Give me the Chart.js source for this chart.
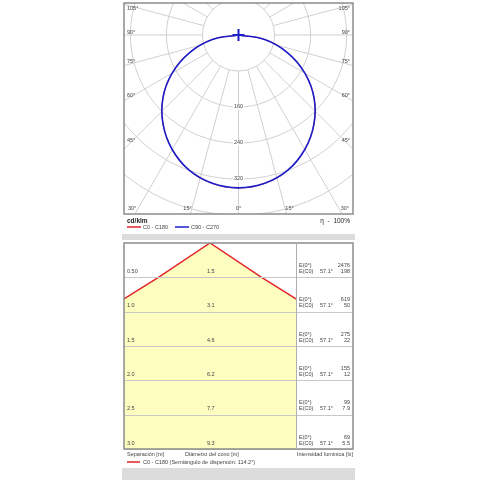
<!DOCTYPE html>
<html>
<head>
<meta charset="utf-8">
<script src="https://cdn.jsdelivr.net/npm/chart.js@4"></script>
<style>
  body { margin: 0; background: #fff; }
  canvas { position: absolute; left: 0; }
  #polar { top: 0; }
  #cone { top: 232px; }
</style>
</head>
<body>
<canvas id="polar" width="480" height="232"></canvas>
<canvas id="cone" width="480" height="248"></canvas>
<script>
// polar curve (cd/klm), read every 10 degrees from nadir
const polarAngles = [0, 10, 20, 30, 40, 50, 60, 70, 80, 90];
const c0c180 = [340, 335, 320, 294, 260, 219, 170, 116, 59, 0];
const c90c270 = [340, 335, 320, 294, 260, 219, 170, 116, 59, 0];
const ringValues = [80, 160, 240, 320, 400, 480, 560];
const ringLabels = [160, 240, 320];
const angleTicks = [0, 15, 30, 45, 60, 75, 90, 105];

// cone diagram
const separation = [0.5, 1.0, 1.5, 2.0, 2.5, 3.0];
const separationLabels = ['0.50', '1.0', '1.5', '2.0', '2.5', '3.0'];
const coneDiameter = [1.5, 3.1, 4.6, 6.2, 7.7, 9.3];
const eCenter = ['2476', '619', '275', '155', '99', '69'];
const eC0 = ['198', '50', '22', '12', '7.9', '5.5'];
const halfAngleText = '57.1°';

const RED = '#e0262b';
const BLUE = '#1c1cc8';
const FONT = '"Liberation Sans", Arial, sans-serif';

function toXY(angles, vals) {
  // both halves of the C-plane, nadir pointing down
  const pts = [];
  for (let i = angles.length - 1; i >= 0; i--) {
    const a = angles[i] * Math.PI / 180;
    pts.push({x: -vals[i] * Math.sin(a), y: -vals[i] * Math.cos(a)});
  }
  for (let i = 1; i < angles.length; i++) {
    const a = angles[i] * Math.PI / 180;
    pts.push({x: vals[i] * Math.sin(a), y: -vals[i] * Math.cos(a)});
  }
  return pts;
}

const polarGrid = {
  id: 'polarGrid',
  beforeDatasetsDraw(chart) {
    const {ctx, chartArea: ca, scales: {x, y}} = chart;
    const cx = x.getPixelForValue(0), cy = y.getPixelForValue(0);
    const k = x.getPixelForValue(100) - cx;
    ctx.save();
    ctx.beginPath();
    ctx.rect(ca.left, ca.top, ca.right - ca.left, ca.bottom - ca.top);
    ctx.clip();
    ctx.strokeStyle = '#d0d0d0';
    ctx.lineWidth = 1;
    ringValues.forEach(r => {
      ctx.beginPath();
      ctx.arc(cx, cy, r * k / 100, 0, Math.PI * 2);
      ctx.stroke();
    });
    for (let a = 0; a < 360; a += 15) {
      const t = a * Math.PI / 180;
      ctx.beginPath();
      ctx.moveTo(x.getPixelForValue(80 * Math.sin(t)), y.getPixelForValue(-80 * Math.cos(t)));
      ctx.lineTo(x.getPixelForValue(700 * Math.sin(t)), y.getPixelForValue(-700 * Math.cos(t)));
      ctx.stroke();
    }
    ctx.restore();
  },
  afterDatasetsDraw(chart) {
    const {ctx, chartArea: ca, scales: {x, y}} = chart;
    const cx = x.getPixelForValue(0), cy = y.getPixelForValue(0);
    ctx.save();
    ctx.font = '5.5px ' + FONT;
    ctx.textBaseline = 'middle';
    // ring values along the nadir spoke
    ctx.textAlign = 'center';
    ringLabels.forEach(r => {
      const py = y.getPixelForValue(-r);
      const w = ctx.measureText(String(r)).width;
      ctx.fillStyle = '#fff';
      ctx.fillRect(cx - w / 2 - 1, py - 3, w + 2, 6);
      ctx.fillStyle = '#444';
      ctx.fillText(String(r), cx, py);
    });
    // angle labels where spokes meet the frame
    const half = ca.right - cx - 7;
    const down = ca.bottom - cy;
    angleTicks.forEach(a => {
      const t = a * Math.PI / 180;
      const s = Math.sin(t), c = Math.cos(t);
      const label = a + '°';
      const tSide = s > 0 ? half / s : Infinity;
      const tBot = c > 0 ? (down - 6) / c : Infinity;
      ctx.fillStyle = '#444';
      if (tSide < tBot) {
        const py = Math.max(cy + tSide * c - 2, ca.top + 5);
        ctx.textAlign = 'left';
        ctx.fillText(label, ca.left + 3, py);
        ctx.textAlign = 'right';
        ctx.fillText(label, ca.right - 3, py);
      } else {
        const dx = down * s / c + 3;
        const py = ca.bottom - 6;
        ctx.textAlign = 'center';
        if (a === 0) {
          ctx.fillText(label, cx, py);
        } else {
          ctx.fillText(label, Math.max(cx - dx, ca.left + 7), py);
          ctx.fillText(label, Math.min(cx + dx, ca.right - 7), py);
        }
      }
    });
    // frame
    ctx.strokeStyle = '#8c8c8c';
    ctx.lineWidth = 1.5;
    ctx.strokeRect(ca.left, ca.top, ca.right - ca.left, ca.bottom - ca.top);
    // unit, efficiency, legend
    ctx.fillStyle = '#222';
    ctx.textAlign = 'left';
    ctx.font = 'bold 6.5px ' + FONT;
    ctx.fillText('cd/klm', ca.left + 3, ca.bottom + 7);
    ctx.font = '6.5px ' + FONT;
    ctx.textAlign = 'right';
    ctx.fillText('η  -  100%', ca.right - 3, ca.bottom + 7);
    ctx.font = '5.5px ' + FONT;
    ctx.textAlign = 'left';
    const ly = ca.bottom + 13;
    ctx.lineWidth = 1.5;
    ctx.strokeStyle = RED;
    ctx.beginPath(); ctx.moveTo(ca.left + 3, ly); ctx.lineTo(ca.left + 17, ly); ctx.stroke();
    ctx.fillStyle = '#444';
    ctx.fillText('C0 - C180', ca.left + 19, ly);
    ctx.strokeStyle = BLUE;
    ctx.beginPath(); ctx.moveTo(ca.left + 51, ly); ctx.lineTo(ca.left + 65, ly); ctx.stroke();
    ctx.fillText('C90 - C270', ca.left + 67, ly);
    ctx.restore();
  }
};

new Chart(document.getElementById('polar'), {
  type: 'scatter',
  data: {
    datasets: [
      {label: 'luminaire', data: [{x: 0, y: 0}], pointStyle: 'cross', pointRadius: 6,
       borderColor: BLUE, borderWidth: 2},
      {label: 'C90 - C270', data: toXY(polarAngles, c90c270), showLine: true, borderColor: BLUE,
       borderWidth: 1.6, pointRadius: 0, tension: 0.4},
      {label: 'C0 - C180', data: toXY(polarAngles, c0c180), showLine: true, borderColor: RED,
       borderWidth: 0.8, pointRadius: 0, tension: 0.4}
    ]
  },
  options: {
    responsive: false,
    animation: false,
    devicePixelRatio: 1,
    layout: {autoPadding: false, padding: {left: 124, right: 127, top: 3, bottom: 18}},
    plugins: {legend: {display: false}, tooltip: {enabled: false}},
    scales: {
      x: {type: 'linear', display: false, min: -254, max: 254},
      y: {type: 'linear', display: false, min: -398, max: 71}
    }
  },
  plugins: [polarGrid]
});

// cone: apex at top, edge through half of each diameter at each separation
const conePts = [];
for (let i = separation.length - 1; i >= 0; i--) conePts.push({x: -coneDiameter[i] / 2, y: separation[i]});
conePts.push({x: 0, y: 0});
for (let i = 0; i < separation.length; i++) conePts.push({x: coneDiameter[i] / 2, y: separation[i]});

const coneTable = {
  id: 'coneTable',
  afterDatasetsDraw(chart) {
    const {ctx, chartArea: ca, scales: {x, y}} = chart;
    const right = 353;
    ctx.save();
    // gray bands
    ctx.fillStyle = '#dcdcdc';
    ctx.fillRect(ca.left - 2, ca.top - 9, right - ca.left + 4, 6);
    ctx.fillRect(ca.left - 2, ca.bottom + 19, right - ca.left + 4, 12);
    // row lines
    ctx.strokeStyle = '#c8c8c8';
    ctx.lineWidth = 1;
    separation.forEach(s => {
      const py = Math.round(y.getPixelForValue(s)) + 0.5;
      ctx.beginPath(); ctx.moveTo(ca.left, py); ctx.lineTo(right, py); ctx.stroke();
    });
    // frame and divider
    ctx.strokeStyle = '#8c8c8c';
    ctx.lineWidth = 1.5;
    ctx.strokeRect(ca.left, ca.top, right - ca.left, ca.bottom - ca.top);
    ctx.lineWidth = 1;
    ctx.strokeStyle = '#b0b0b0';
    ctx.beginPath(); ctx.moveTo(ca.right + 0.5, ca.top); ctx.lineTo(ca.right + 0.5, ca.bottom); ctx.stroke();
    // texts
    ctx.font = '5.5px ' + FONT;
    ctx.textBaseline = 'middle';
    ctx.fillStyle = '#444';
    separation.forEach((s, i) => {
      const py = y.getPixelForValue(s);
      ctx.textAlign = 'left';
      ctx.fillText(separationLabels[i], ca.left + 3, py - 6);
      ctx.fillText(coneDiameter[i].toFixed(1), x.getPixelForValue(0) - 3, py - 6);
      ctx.fillText('E(0°)', ca.right + 3, py - 12);
      ctx.fillText('E(C0)', ca.right + 3, py - 6);
      ctx.fillText(halfAngleText, ca.right + 24, py - 6);
      ctx.textAlign = 'right';
      ctx.fillText(eCenter[i], right - 3, py - 12);
      ctx.fillText(eC0[i], right - 3, py - 6);
    });
    // axis captions and legend
    ctx.textAlign = 'left';
    const cy = ca.bottom + 5;
    ctx.fillText('Separación [m]', ca.left + 3, cy);
    ctx.fillText('Diámetro del cono [m]', ca.left + 61, cy);
    ctx.fillText('Intensidad lumínica [lx]', ca.right + 1, cy);
    const ly = ca.bottom + 13;
    ctx.strokeStyle = RED;
    ctx.lineWidth = 1.5;
    ctx.beginPath(); ctx.moveTo(ca.left + 3, ly); ctx.lineTo(ca.left + 16, ly); ctx.stroke();
    ctx.fillText('C0 - C180 (Semiángulo de dispersión: 114.2°)', ca.left + 19, ly);
    ctx.restore();
  }
};

new Chart(document.getElementById('cone'), {
  type: 'scatter',
  data: {
    datasets: [{
      label: 'C0 - C180',
      data: conePts,
      showLine: true,
      borderColor: RED,
      borderWidth: 1.5,
      pointRadius: 0,
      fill: {value: 3},
      backgroundColor: '#fdfdc0'
    }]
  },
  options: {
    responsive: false,
    animation: false,
    devicePixelRatio: 1,
    layout: {autoPadding: false, padding: {left: 124, right: 184, top: 11, bottom: 31}},
    plugins: {legend: {display: false}, tooltip: {enabled: false}},
    scales: {
      x: {type: 'linear', display: false, min: -1.25, max: 1.25},
      y: {type: 'linear', display: false, min: 0, max: 3, reverse: true}
    }
  }
  ,plugins: [coneTable]
});
</script>
</body>
</html>
